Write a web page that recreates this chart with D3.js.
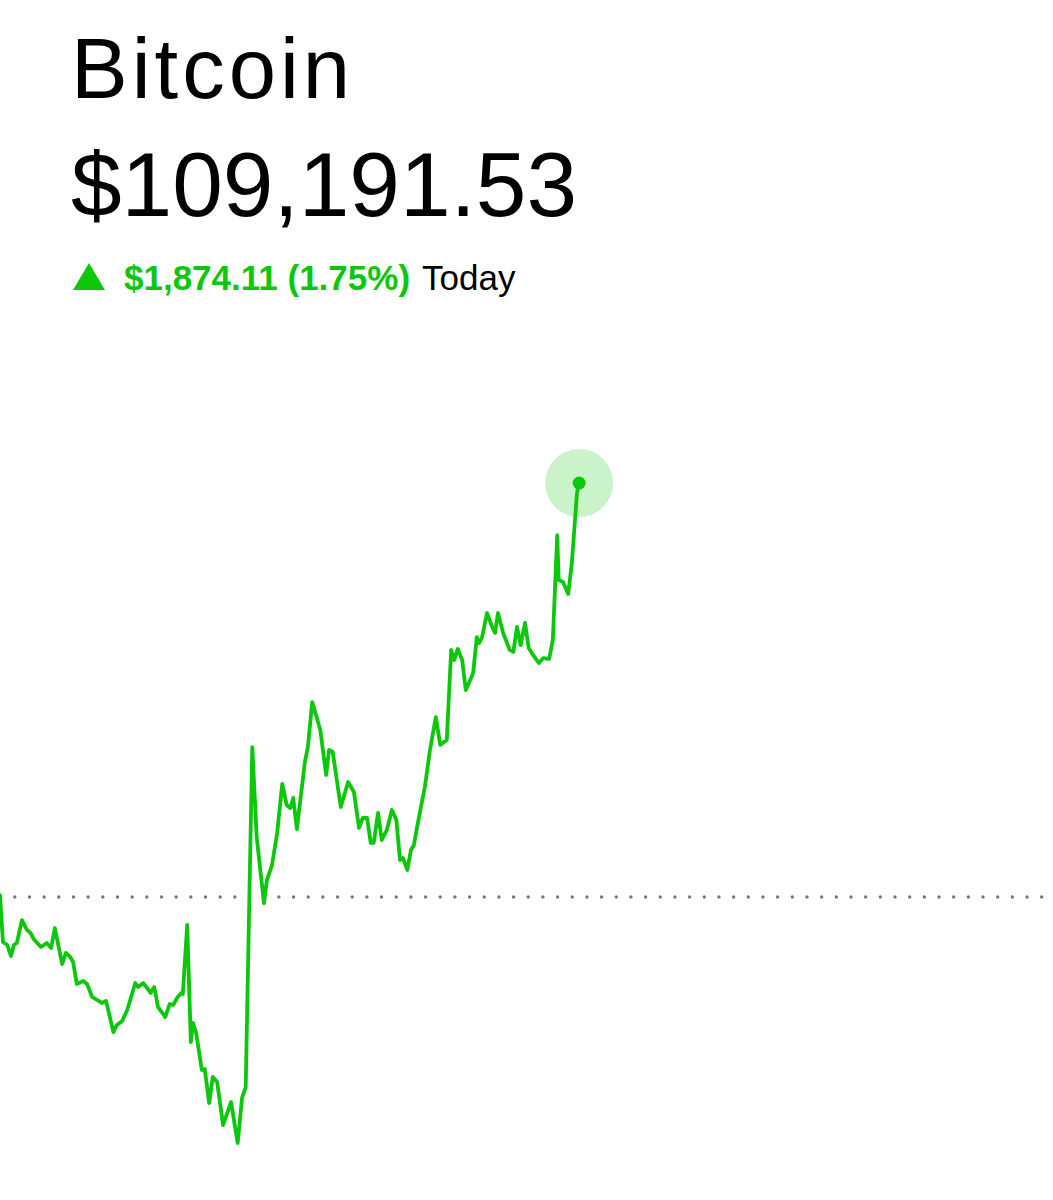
<!DOCTYPE html>
<html>
<head>
<meta charset="utf-8">
<script src="https://cdn.jsdelivr.net/npm/d3@7"></script>
<style>
  html, body { margin: 0; padding: 0; background: #fff; }
  svg { display: block; }
</style>
</head>
<body>
<script>

// quote
var assetName = 'Bitcoin';
var lastPrice = 109191.53;
var changeAbs = 1874.11;
var changePct = 1.75;
var prevClose = lastPrice - changeAbs;

// minutes since midnight
var minutes = [0, 4, 10, 15, 19, 23, 30, 37, 42, 46, 56, 64, 70, 75, 85, 90, 96, 100, 105, 114,
    119, 126, 133, 139, 145, 155, 160, 167, 174, 185, 189, 196, 201, 206, 211, 216, 226, 232, 237, 243,
    248, 250, 256, 261, 264, 268, 276, 280, 286, 291, 297, 305, 316, 325, 331, 336, 345, 351, 361, 365,
    372, 379, 386, 392, 397, 401, 406, 417, 421, 427, 438, 446, 450, 455, 466, 476, 484, 491, 496, 502,
    507, 511, 517, 522, 529, 536, 542, 547, 551, 557, 562, 566, 573, 581, 588, 596, 602, 611, 617, 621,
    626, 632, 637, 643, 647, 652, 655, 659, 666, 673, 677, 681, 688, 697, 702, 707, 712, 718, 723, 729,
    734, 737, 743, 751, 756, 762, 764, 770, 777, 782, 789, 792];

// price in USD
var prices = [107326, 107114, 107100, 107050, 107100, 107109, 107213, 107168, 107154, 107127,
    107091, 107109, 107087, 107177, 107014, 107064, 107046, 107023, 106924, 106937,
    106924, 106865, 106851, 106838, 106847, 106706, 106738, 106756, 106806, 106928,
    106910, 106928, 106906, 106883, 106910, 106820, 106774, 106833, 106829, 106865,
    106883, 106878, 107191, 106661, 106747, 106706, 106534, 106539, 106385, 106503,
    106480, 106285, 106389, 106204, 106408, 106457, 107996, 107589, 107290, 107394,
    107462, 107607, 107829, 107734, 107720, 107766, 107625, 107929, 107996, 108200,
    108073, 107870, 107983, 107974, 107725, 107838, 107793, 107630, 107675, 107675,
    107562, 107562, 107698, 107575, 107621, 107711, 107666, 107485, 107494, 107440,
    107530, 107553, 107680, 107815, 107983, 108132, 108006, 108028, 108436, 108390,
    108440, 108390, 108254, 108300, 108331, 108494, 108467, 108490, 108603, 108540,
    108513, 108603, 108513, 108436, 108427, 108540, 108458, 108558, 108445, 108413,
    108390, 108377, 108399, 108395, 108481, 108956, 108752, 108743, 108689, 108829,
    109146, 109191.53];

var dataset = minutes.map(function(m, i) { return {t: m, price: prices[i]}; });

var width = 1053,
    height = 1200;

var green = '#0cc70c';

var svg = d3.select('body').append('svg')
    .attr('width', width)
    .attr('height', height)
    .style('font-family', '"Liberation Sans", Arial, sans-serif');

// header
svg.append('text')
    .attr('x', 71)
    .attr('y', 98)
    .attr('font-size', 85)
    .attr('letter-spacing', 4)
    .attr('fill', '#000')
    .text(assetName);

svg.append('text')
    .attr('x', 71)
    .attr('y', 216)
    .attr('font-size', 91)
    .attr('fill', '#000')
    .text('$' + d3.format(',.2f')(lastPrice));

// change line
svg.append('path')
    .attr('d', 'M73,290 L89,263 L105,290 Z')
    .attr('fill', green);

var change = svg.append('text')
    .attr('x', 124)
    .attr('y', 290)
    .attr('font-size', 35);

change.append('tspan')
    .attr('fill', green)
    .attr('font-weight', 'bold')
    .text('$' + d3.format(',.2f')(changeAbs) + ' (' + changePct.toFixed(2) + '%)');

change.append('tspan')
    .attr('fill', '#000')
    .attr('dx', 12)
    .text('Today');

// scales: full day across the width, prev close and last price pinned
var x = d3.scaleLinear().domain([0, 1440]).range([0, width]);
var y = d3.scaleLinear().domain([prevClose, lastPrice]).range([897, 483]);

// previous close, dotted
svg.append('line')
    .attr('x1', 14.8)
    .attr('x2', width)
    .attr('y1', y(prevClose))
    .attr('y2', y(prevClose))
    .attr('stroke', '#777')
    .attr('stroke-width', 3.4)
    .attr('stroke-linecap', 'round')
    .attr('stroke-dasharray', '0 14.67');

var line = d3.line()
    .x(function(d) { return x(d.t); })
    .y(function(d) { return y(d.price); });

svg.append('path')
    .datum(dataset)
    .attr('d', line)
    .attr('fill', 'none')
    .attr('stroke', green)
    .attr('stroke-width', 3.8)
    .attr('stroke-linejoin', 'round')
    .attr('stroke-linecap', 'round');

// current point
var last = dataset[dataset.length - 1];

svg.append('circle')
    .attr('cx', x(last.t))
    .attr('cy', y(last.price))
    .attr('r', 34)
    .attr('fill', green)
    .attr('fill-opacity', 0.22);

svg.append('circle')
    .attr('cx', x(last.t))
    .attr('cy', y(last.price))
    .attr('r', 6.5)
    .attr('fill', green);

</script>
</body>
</html>
